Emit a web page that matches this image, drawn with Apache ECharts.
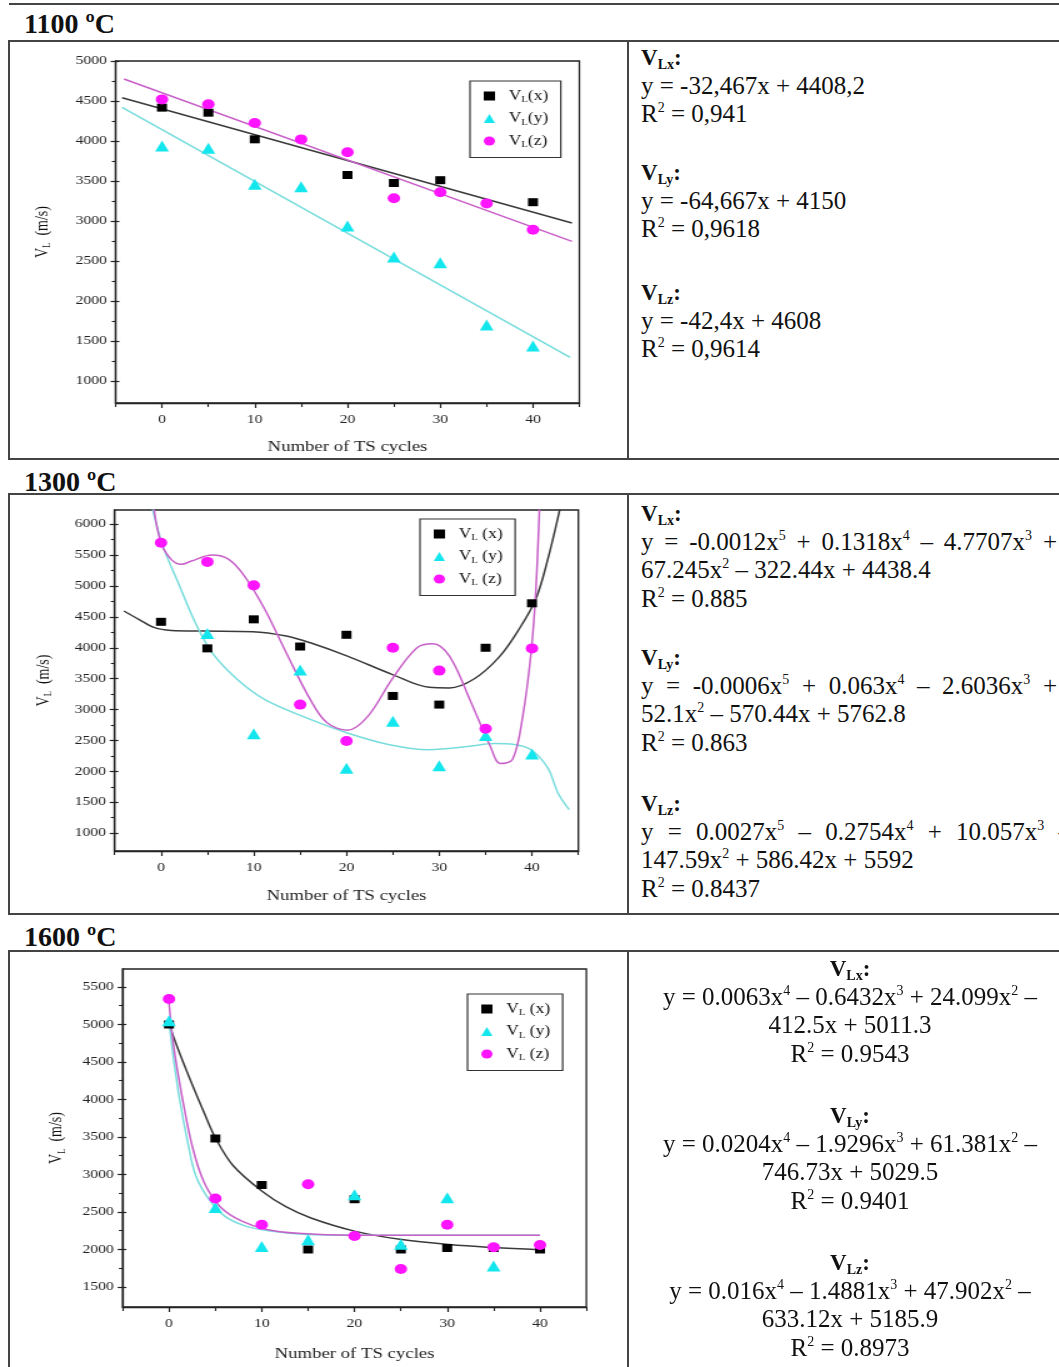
<!DOCTYPE html>
<html>
<head>
<meta charset="utf-8">
<script src="https://cdn.jsdelivr.net/npm/echarts@6.0.0/dist/echarts.min.js"></script>
<style>
  body { margin: 0; width: 1059px; height: 1367px; position: relative; overflow: hidden; background: #fff;
         font-family: 'Liberation Serif', 'DejaVu Serif', serif; color: #111; }
  .ln { position: absolute; background: #444; }
  .hd { position: absolute; left: 24px; font-weight: bold; font-size: 28px; line-height: 28px; }
  #chart { position: absolute; left: 0; top: 0; width: 502px; height: 1367px;
           transform: scaleX(1.25); transform-origin: 0 0; }
  .eq { position: absolute; font-size: 25px; line-height: 28.5px; white-space: nowrap; }
  .eq div { height: 28.5px; }
  .eq b { font-size: 23px; }
  .eq b sub { font-size: 14px; vertical-align: baseline; position: relative; top: 4px; }
  .eq sup { font-size: 14px; vertical-align: baseline; position: relative; top: -10px; }
  .just { white-space: normal !important; text-align: justify; text-align-last: justify; }
  .ctr { text-align: center; }
</style>
</head>
<body>
<!-- frames -->
<div class="ln" style="left:9px; top:3px; width:1050px; height:2px;"></div>
<div class="hd" style="top:10px;">1100 ºC</div>
<div class="ln" style="left:8px; top:40px; width:1051px; height:1.5px;"></div>
<div class="ln" style="left:8px; top:458px; width:1051px; height:1.5px;"></div>
<div class="ln" style="left:8px; top:40px; width:1.5px; height:419px;"></div>
<div class="ln" style="left:627px; top:40px; width:1.5px; height:419px;"></div>

<div class="hd" style="top:468px;">1300 ºC</div>
<div class="ln" style="left:8px; top:493px; width:1051px; height:1.5px;"></div>
<div class="ln" style="left:8px; top:913px; width:1051px; height:1.5px;"></div>
<div class="ln" style="left:8px; top:493px; width:1.5px; height:421px;"></div>
<div class="ln" style="left:627px; top:493px; width:1.5px; height:421px;"></div>

<div class="hd" style="top:923px;">1600 ºC</div>
<div class="ln" style="left:8px; top:950px; width:1051px; height:1.5px;"></div>
<div class="ln" style="left:8px; top:950px; width:1.5px; height:420px;"></div>
<div class="ln" style="left:627px; top:950px; width:1.5px; height:420px;"></div>

<div id="chart"></div>

<!-- equations 1100 -->
<div class="eq" style="left:641px; top:43px;">
  <div><b>V<sub>Lx</sub>:</b></div>
  <div>y = -32,467x + 4408,2</div>
  <div>R<sup>2</sup> = 0,941</div>
</div>
<div class="eq" style="left:641px; top:158px;">
  <div><b>V<sub>Ly</sub>:</b></div>
  <div>y = -64,667x + 4150</div>
  <div>R<sup>2</sup> = 0,9618</div>
</div>
<div class="eq" style="left:641px; top:278px;">
  <div><b>V<sub>Lz</sub>:</b></div>
  <div>y = -42,4x + 4608</div>
  <div>R<sup>2</sup> = 0,9614</div>
</div>

<!-- equations 1300 -->
<div class="eq" style="left:641px; top:499px;">
  <div><b>V<sub>Lx</sub>:</b></div>
  <div class="just" style="width:416px;">y = -0.0012x<sup>5</sup> + 0.1318x<sup>4</sup> – 4.7707x<sup>3</sup> +</div>
  <div>67.245x<sup>2</sup> – 322.44x + 4438.4</div>
  <div>R<sup>2</sup> = 0.885</div>
</div>
<div class="eq" style="left:641px; top:643px;">
  <div><b>V<sub>Ly</sub>:</b></div>
  <div class="just" style="width:416px;">y = -0.0006x<sup>5</sup> + 0.063x<sup>4</sup> – 2.6036x<sup>3</sup> +</div>
  <div>52.1x<sup>2</sup> – 570.44x + 5762.8</div>
  <div>R<sup>2</sup> = 0.863</div>
</div>
<div class="eq" style="left:641px; top:789px;">
  <div><b>V<sub>Lz</sub>:</b></div>
  <div class="just" style="width:430px;">y = 0.0027x<sup>5</sup> – 0.2754x<sup>4</sup> + 10.057x<sup>3</sup> –</div>
  <div>147.59x<sup>2</sup> + 586.42x + 5592</div>
  <div>R<sup>2</sup> = 0.8437</div>
</div>

<!-- equations 1600 -->
<div class="eq ctr" style="left:627px; width:446px; top:954px;">
  <div><b>V<sub>Lx</sub>:</b></div>
  <div>y = 0.0063x<sup>4</sup> – 0.6432x<sup>3</sup> + 24.099x<sup>2</sup> –</div>
  <div>412.5x + 5011.3</div>
  <div>R<sup>2</sup> = 0.9543</div>
</div>
<div class="eq ctr" style="left:627px; width:446px; top:1101px;">
  <div><b>V<sub>Ly</sub>:</b></div>
  <div>y = 0.0204x<sup>4</sup> – 1.9296x<sup>3</sup> + 61.381x<sup>2</sup> –</div>
  <div>746.73x + 5029.5</div>
  <div>R<sup>2</sup> = 0.9401</div>
</div>
<div class="eq ctr" style="left:627px; width:446px; top:1248px;">
  <div><b>V<sub>Lz</sub>:</b></div>
  <div>y = 0.016x<sup>4</sup> – 1.4881x<sup>3</sup> + 47.902x<sup>2</sup> –</div>
  <div>633.12x + 5185.9</div>
  <div>R<sup>2</sup> = 0.8973</div>
</div>

<script>
// measured points, one value per TS-cycle count (null = hidden under another marker)
const cycles = [0, 5, 10, 15, 20, 25, 30, 35, 40]

const vx1100 = [4417, 4354, 4021, null, 3575, 3475, 3510, null, 3235]
const vy1100 = [3938, 3908, 3458, 3429, 2938, 2550, 2479, 1700, 1437]
const vz1100 = [4520, 4460, 4225, 4020, 3860, 3285, 3360, 3220, 2890]

const vx1300 = [4420, 3990, 4460, 4020, 4210, 3220, 3080, 4000, 4720]
const vy1300 = [null, 4230, 2610, 3640, 2050, 2810, 2090, 2580, 2280]
const vz1300 = [5700, 5390, 5010, 3080, 2490, 4000, 3630, 2690, 3990]

const vx1600 = [5000, 3480, 2860, 2000, 2670, 2000, 2020, 2020, 2000]
const vy1600 = [5050, 2560, 2040, 2130, 2730, 2070, 2690, 1780, null]
const vz1600 = [5340, 2680, 2330, 2870, 2180, 1740, 2330, 2030, 2060]

// fitted curves as [cycles, value]
const fitx1100 = [[-4.3, 4540], [44.2, 2975]]
const fity1100 = [[-4.3, 4420], [44, 1295]]
const fitz1100 = [[-4.1, 4775], [44.2, 2745]]

const fitx1300 = [[-4, 4595], [-2.4, 4460], [-0.7, 4325], [1.1, 4280], [4.6, 4270], [9.9, 4260], [13.5, 4190],
  [16.1, 4080], [20.1, 3865], [24.9, 3570], [28.9, 3360], [31.1, 3350], [33.7, 3490], [36.4, 3840],
  [38.6, 4300], [40.4, 4785], [41.7, 5430], [43, 6240]]
const fity1300 = [[-0.9, 6240], [0.2, 5650], [2, 5000], [3.7, 4405], [5.5, 3920], [8.2, 3490], [11.2, 3160],
  [15.7, 2865], [20.1, 2620], [24.5, 2435], [28.9, 2350], [33.3, 2405], [35.9, 2450], [38.1, 2435],
  [39.9, 2350], [41.7, 2055], [42.8, 1650], [44, 1380]]
const fitz1300 = [[-0.75, 6240], [0, 5700], [1.1, 5430], [2.2, 5350], [3.3, 5405], [5.5, 5500], [7.3, 5430],
  [9, 5160], [11.2, 4620], [13.5, 3920], [16.1, 3160], [17.9, 2785], [20.1, 2665], [22.3, 2890],
  [24.9, 3490], [27.6, 4000], [29.3, 4065], [31.1, 3865], [33.3, 3160], [35.5, 2405], [36.6, 2125],
  [37.9, 2190], [39, 2890], [39.9, 3920], [40.4, 4890], [40.8, 6240]]

const fitx1600 = [[0, 5000], [1.2, 4600], [2.5, 4200], [3.8, 3820], [5, 3490], [6.9, 3120], [10, 2780],
  [12.6, 2570], [15.3, 2420], [20, 2245], [24.9, 2135], [30.2, 2065], [35, 2025], [40, 1995]]
const fity1600 = [[0, 5045], [0.5, 4535], [1.2, 3960], [2.1, 3380], [2.9, 2980], [4.3, 2670], [6, 2445],
  [8.2, 2315], [10.9, 2245], [14.8, 2200], [20, 2190], [40, 2190]]
const fitz1600 = [[0, 5290], [0.5, 4715], [1.4, 4045], [2.5, 3380], [3.8, 2890], [5.6, 2560], [7.8, 2380],
  [10.4, 2270], [13.9, 2215], [20, 2190], [40, 2190]]

// tick labels
const xTicks = [0, 10, 20, 30, 40]
const xMinorTicks = [-5, 5, 15, 25, 35, 45]
const yTicks1100 = [1000, 1500, 2000, 2500, 3000, 3500, 4000, 4500, 5000]
const yMinor1100 = [1250, 1750, 2250, 2750, 3250, 3750, 4250, 4750]
const yTicks1300 = [1000, 1500, 2000, 2500, 3000, 3500, 4000, 4500, 5000, 5500, 6000]
const yMinor1300 = [1250, 1750, 2250, 2750, 3250, 3750, 4250, 4750, 5250, 5750]
const yTicks1600 = [1500, 2000, 2500, 3000, 3500, 4000, 4500, 5000, 5500]
const yMinor1600 = [1750, 2250, 2750, 3250, 3750, 4250, 4750, 5250]

const FONT = 'Liberation Serif'
const AX = '#222'
const BLACK = '#000000', CYAN = '#14e6ee', MAGENTA = '#ff14ff'
const BLACK_LINE = '#3a3a3a', CYAN_LINE = '#78dcdc', MAGENTA_LINE = '#c860c8'

const pts = arr => cycles.map((c, i) => [c, arr[i]]).filter(d => d[1] != null)

const panels = [
  { grid: { left: 92.5, top: 61, width: 371, height: 342 }, yMin: 725, yMax: 5000,
    yTicks: yTicks1100, yMinor: yMinor1100, legend: { left: 376, top: 81 }, spaced: false, yGap: 50, xGap: 37,
    pts: [vx1100, vy1100, vz1100], fits: [fitx1100, fity1100, fitz1100], smooth: false },
  { grid: { left: 91.7, top: 510, width: 371, height: 341 }, yMin: 710, yMax: 6230,
    yTicks: yTicks1300, yMinor: yMinor1300, legend: { left: 336, top: 519 }, spaced: true, yGap: 48, xGap: 38,
    pts: [vx1300, vy1300, vz1300], fits: [fitx1300, fity1300, fitz1300], smooth: true },
  { grid: { left: 98.1, top: 969, width: 371, height: 338 }, yMin: 1233, yMax: 5740,
    yTicks: yTicks1600, yMinor: yMinor1600, legend: { left: 374, top: 994 }, spaced: true, yGap: 44, xGap: 40,
    pts: [vx1600, vy1600, vz1600], fits: [fitx1600, fity1600, fitz1600], smooth: true }
]

const grids = [], xAxes = [], yAxes = [], legends = [], series = []
const labelStyle = { fontFamily: FONT, fontSize: 12.5, color: AX, formatter: v => String(v) }
const subRich = {
  v0: { fontFamily: FONT, fontSize: 14, color: '#111', lineHeight: 17, padding: [0, 0, 0, 6] },
  v: { fontFamily: FONT, fontSize: 14, color: '#111', lineHeight: 17 },
  s: { fontFamily: FONT, fontSize: 8.5, color: '#111', lineHeight: 9, verticalAlign: 'bottom' }
}

panels.forEach((p, g) => {
  grids.push(Object.assign({ show: true, borderColor: AX, borderWidth: 1.3, backgroundColor: 'transparent' }, p.grid))
  const xi = xAxes.length, yi = yAxes.length
  // main x axis
  xAxes.push({
    type: 'value', gridIndex: g, min: -5, max: 45, position: 'bottom',
    axisLine: { onZero: false, lineStyle: { color: AX, width: 1.3 } },
    axisTick: { customValues: xTicks, length: 5, lineStyle: { color: AX, width: 1.2 } },
    axisLabel: Object.assign({ customValues: xTicks, margin: 10 }, labelStyle),
    splitLine: { show: false },
    name: 'Number of TS cycles', nameLocation: 'middle', nameGap: p.xGap,
    nameTextStyle: { fontFamily: FONT, fontSize: 15, color: '#222' }
  })
  // minor x ticks
  xAxes.push({
    type: 'value', gridIndex: g, min: -5, max: 45, position: 'bottom',
    axisLine: { show: false, onZero: false },
    axisTick: { customValues: xMinorTicks, length: 4, lineStyle: { color: AX, width: 1.1 } },
    axisLabel: { show: false }, splitLine: { show: false }
  })
  // main y axis
  yAxes.push({
    type: 'value', gridIndex: g, min: p.yMin, max: p.yMax, position: 'left',
    axisLine: { show: true, onZero: false, lineStyle: { color: AX, width: 1.3 } },
    axisTick: { show: true, customValues: p.yTicks, length: 4, lineStyle: { color: AX, width: 1.2 } },
    axisLabel: Object.assign({ customValues: p.yTicks, margin: 7 }, labelStyle),
    splitLine: { show: false },
    name: '{v|V}{s|L}{v|  (m/s)}', nameLocation: 'middle', nameRotate: 90, nameGap: p.yGap,
    nameTextStyle: { fontFamily: FONT, fontSize: 14, color: '#111', rich: subRich }
  })
  // major ticks on the inner side
  yAxes.push({
    type: 'value', gridIndex: g, min: p.yMin, max: p.yMax, position: 'left',
    axisLine: { show: false, onZero: false },
    axisTick: { show: true, inside: true, customValues: p.yTicks, length: 3, lineStyle: { color: AX, width: 1.2 } },
    axisLabel: { show: false }, splitLine: { show: false }
  })
  // minor y ticks
  yAxes.push({
    type: 'value', gridIndex: g, min: p.yMin, max: p.yMax, position: 'left',
    axisLine: { show: false, onZero: false },
    axisTick: { show: true, customValues: p.yMinor, length: 3, lineStyle: { color: AX, width: 1.1 } },
    axisLabel: { show: false }, splitLine: { show: false }
  })

  const names = ['x', 'y', 'z'].map(k => g + '_' + k)
  const symbols = ['rect', 'triangle', 'circle']
  const sizes = [8, 11, 10]
  const colors = [BLACK, CYAN, MAGENTA]
  const lineColors = [BLACK_LINE, CYAN_LINE, MAGENTA_LINE]

  p.fits.forEach((f, k) => {
    series.push({
      type: 'line', xAxisIndex: xi, yAxisIndex: yi, data: f, showSymbol: false, symbol: 'none',
      smooth: p.smooth ? 0.35 : false, clip: true, z: 1, silent: true,
      lineStyle: { color: lineColors[k], width: 1.5 }
    })
  })
  p.pts.forEach((arr, k) => {
    series.push({
      name: names[k], type: 'scatter', xAxisIndex: xi, yAxisIndex: yi, data: pts(arr),
      symbol: symbols[k], symbolSize: sizes[k], z: 3,
      itemStyle: { color: colors[k], opacity: 1 }
    })
  })

  legends.push({
    data: names, left: p.legend.left, top: p.legend.top, orient: 'vertical',
    itemWidth: 9, itemHeight: 9, itemGap: 7, padding: [8, 10, 8, 11],
    borderColor: '#333', borderWidth: 1.2, backgroundColor: '#fff',
    selectedMode: false,
    formatter: n => '{v0|V}{s|L}{v|' + (p.spaced ? ' (' : '(') + n.slice(-1) + ')}',
    textStyle: { fontFamily: FONT, fontSize: 14, color: '#111', rich: subRich }
  })
})

const chart = echarts.init(document.getElementById('chart'))
chart.setOption({
  animation: false,
  backgroundColor: 'transparent',
  grid: grids,
  xAxis: xAxes,
  yAxis: yAxes,
  legend: legends,
  series: series
})
</script>
</body>
</html>
